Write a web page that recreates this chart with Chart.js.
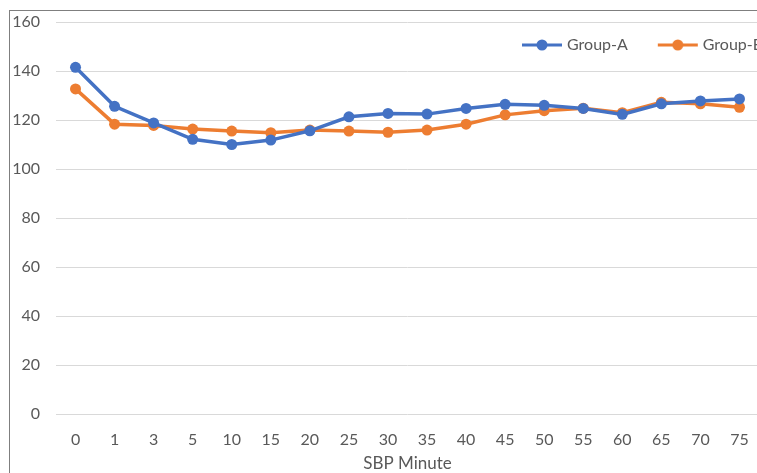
<!DOCTYPE html>
<html lang="en">
<head>
    <meta charset="UTF-8">
    <script src="https://cdn.jsdelivr.net/npm/chart.js"></script>
    <title>SBP Minute</title>
    <style>
        html, body { margin: 0; padding: 0; background: #fff; overflow: hidden; width: 757px; height: 473px; }
        .frame { position: absolute; left: 9px; top: 10px; border-left: 1px solid #7f7f7f; border-top: 1px solid #7f7f7f; }
        canvas { display: block; }
    </style>
</head>
<body>
    <div class="frame">
        <canvas id="myChart" width="770" height="480"></canvas>
    </div>
    <script>
        const minutes = ['0', '1', '3', '5', '10', '15', '20', '25', '30', '35', '40', '45', '50', '55', '60', '65', '70', '75'];
        const groupA = [141.5, 125.6, 118.8, 112.1, 110.0, 111.8, 115.6, 121.3, 122.7, 122.4, 124.7, 126.4, 126.0, 124.7, 122.3, 126.6, 127.8, 128.6];
        const groupB = [132.7, 118.3, 117.8, 116.3, 115.5, 114.8, 115.9, 115.5, 115.0, 115.9, 118.3, 122.1, 123.8, 124.8, 123.0, 127.2, 126.6, 125.2];
        const yMin = 0, yMax = 160, yStep = 20;

        const blue = '#4472C4';
        const orange = '#ED7D31';
        const textColor = '#595959';
        const fontFamily = 'Lato, "Open Sans", sans-serif';
        const fontSize = 16;

        // legend sample: short line with a dot in the middle, like excel
        function legendMark(color) {
            const c = document.createElement('canvas');
            c.width = 42;
            c.height = 12;
            const g = c.getContext('2d');
            g.strokeStyle = color;
            g.lineWidth = 3;
            g.beginPath();
            g.moveTo(1, 6);
            g.lineTo(41, 6);
            g.stroke();
            g.fillStyle = color;
            g.beginPath();
            g.arc(21, 6, 5.5, 0, Math.PI * 2);
            g.fill();
            return c;
        }

        // legend floats inside the plot (top right), takes no room from it
        const legendSpot = {
            id: 'legendSpot',
            beforeLayout(chart) {
                const lg = chart.legend;
                if (!lg || lg._floating) return;
                const fit = lg.fit;
                lg.fit = function () {
                    fit.call(this);
                    this.height = 0;
                };
                lg._floating = true;
            },
            afterLayout(chart) {
                const lg = chart.legend;
                if (!lg) return;
                const pad = lg.options.labels.padding;
                lg.left = 525 - 10 - pad;
                lg.right = lg.left + 400;
                lg.top = 34 - pad - fontSize / 2;
                lg.bottom = lg.top + 60;
            }
        };

        const ctx = document.getElementById('myChart');
        new Chart(ctx, {
            type: 'line',
            data: {
                labels: minutes,
                datasets: [{
                    label: 'Group-A',
                    data: groupA,
                    borderColor: blue,
                    backgroundColor: blue,
                    borderWidth: 3.5,
                    pointRadius: 5.5,
                    pointBorderWidth: 0,
                    pointStyle: 'circle',
                    tension: 0
                }, {
                    label: 'Group-B',
                    data: groupB,
                    borderColor: orange,
                    backgroundColor: orange,
                    borderWidth: 3.5,
                    pointRadius: 5.5,
                    pointBorderWidth: 0,
                    pointStyle: 'circle',
                    tension: 0
                }]
            },
            options: {
                responsive: false,
                animation: false,
                layout: { padding: { top: 11, right: 21, left: 0, bottom: 0 } },
                plugins: {
                    tooltip: { enabled: false },
                    legend: {
                        position: 'top',
                        align: 'start',
                        labels: {
                            color: textColor,
                            font: { family: fontFamily, size: fontSize },
                            usePointStyle: true,
                            pointStyleWidth: 34,
                            padding: 33,
                            generateLabels(chart) {
                                return chart.data.datasets.map((ds, i) => ({
                                    text: ds.label,
                                    fontColor: textColor,
                                    pointStyle: legendMark(ds.borderColor),
                                    datasetIndex: i,
                                    lineWidth: 0,
                                    strokeStyle: 'transparent',
                                    fillStyle: 'transparent'
                                }));
                            }
                        }
                    }
                },
                scales: {
                    x: {
                        offset: true,
                        afterFit(s) { s.height = 77; },
                        grid: { display: false, drawTicks: false },
                        border: { display: false },
                        ticks: {
                            color: textColor,
                            font: { family: fontFamily, size: fontSize },
                            padding: 16,
                            maxRotation: 0,
                            autoSkip: false
                        },
                        title: {
                            display: true,
                            text: 'SBP Minute',
                            color: textColor,
                            font: { family: fontFamily, size: 17 },
                            padding: { top: 0, bottom: 17 }
                        }
                    },
                    y: {
                        min: yMin,
                        max: yMax,
                        afterFit(s) { s.width = 46; },
                        grid: { color: '#d9d9d9', lineWidth: 1, drawTicks: true, tickLength: 16, tickColor: 'rgba(0,0,0,0)' },
                        border: { display: false },
                        ticks: {
                            stepSize: yStep,
                            color: textColor,
                            font: { family: fontFamily, size: fontSize },
                            padding: 0
                        }
                    }
                }
            },
            plugins: [legendSpot]
        });
    </script>
</body>
</html>
